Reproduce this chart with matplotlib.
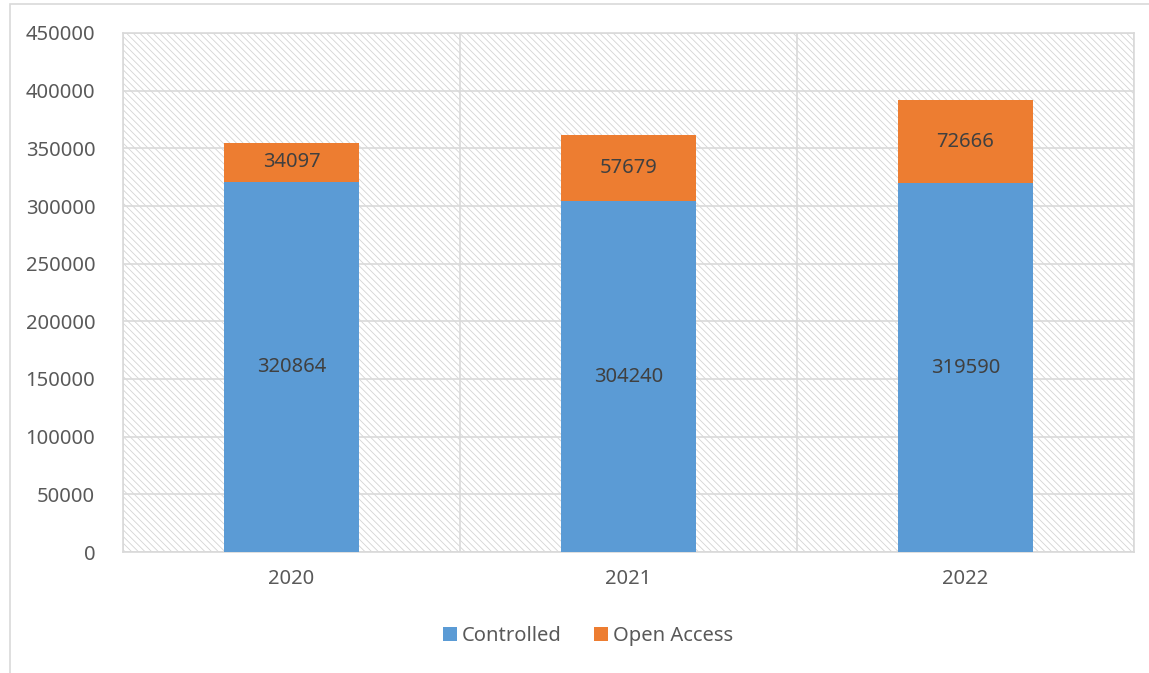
import matplotlib
matplotlib.use("Agg")
import matplotlib.pyplot as plt
from matplotlib.patches import Rectangle
import numpy as np

years = ["2020", "2021", "2022"]
controlled = [320864, 304240, 319590]
open_access = [34097, 57679, 72666]

BLUE = "#5b9bd5"
ORANGE = "#ed7d31"
GRID = "#d9d9d9"
TXT = "#595959"
FS = 14.5

plt.rcParams["font.family"] = ["Noto Sans", "DejaVu Sans"]
plt.rcParams["hatch.linewidth"] = 0.6

W, H = 1149, 673
fig = plt.figure(figsize=(W / 100, H / 100), dpi=100)
ax = fig.add_axes([123 / W, 1 - 552 / H, (1134 - 123) / W, (552 - 33) / H])

# outer chart border (runs off the right and bottom edges)
fig.patches.append(Rectangle((10 / W, -0.1), 1.2, 1.1 - 4 / H, transform=fig.transFigure,
                             fill=False, edgecolor=GRID, linewidth=1.2, zorder=0))

# hatched plot area background
ax.add_patch(Rectangle((0, 0), 1, 1, transform=ax.transAxes, facecolor="white",
                       edgecolor="#d4d4d4", linewidth=0, hatch="\\\\\\\\\\", zorder=0))

x = np.arange(len(years))
ax.bar(x, controlled, width=0.4, color=BLUE, label="Controlled", zorder=3)
ax.bar(x, open_access, width=0.4, bottom=controlled, color=ORANGE, label="Open Access", zorder=3)

for xi, c, o in zip(x, controlled, open_access):
    ax.text(xi, c / 2, str(c), ha="center", va="center", fontsize=FS, color="#404040", zorder=4)
    ax.text(xi, c + o / 2, str(o), ha="center", va="center", fontsize=FS, color="#404040", zorder=4)

ax.set_xlim(-0.5, 2.5)
ax.set_ylim(0, 450000)
ax.set_yticks(np.arange(0, 450001, 50000))
ax.set_xticks(x)
ax.set_xticklabels(years)
ax.set_xticks([-0.5, 0.5, 1.5, 2.5], minor=True)
ax.grid(True, axis="y", color=GRID, linewidth=1.2, zorder=1)
ax.grid(True, axis="x", which="minor", color=GRID, linewidth=1.2, zorder=1)
ax.set_axisbelow(True)
ax.tick_params(axis="both", which="both", length=0, labelsize=FS, labelcolor=TXT)
ax.tick_params(axis="y", pad=20)
ax.tick_params(axis="x", pad=12)
for s in ax.spines.values():
    s.set_color(GRID)
    s.set_linewidth(1.2)

fig.legend(loc="center", bbox_to_anchor=(588 / W, 1 - 636 / H), ncol=2, frameon=False,
           fontsize=FS, labelcolor=TXT, handlelength=0.7, handleheight=0.7,
           handletextpad=0.25, columnspacing=1.6)

fig.savefig("out.png", dpi=100)
